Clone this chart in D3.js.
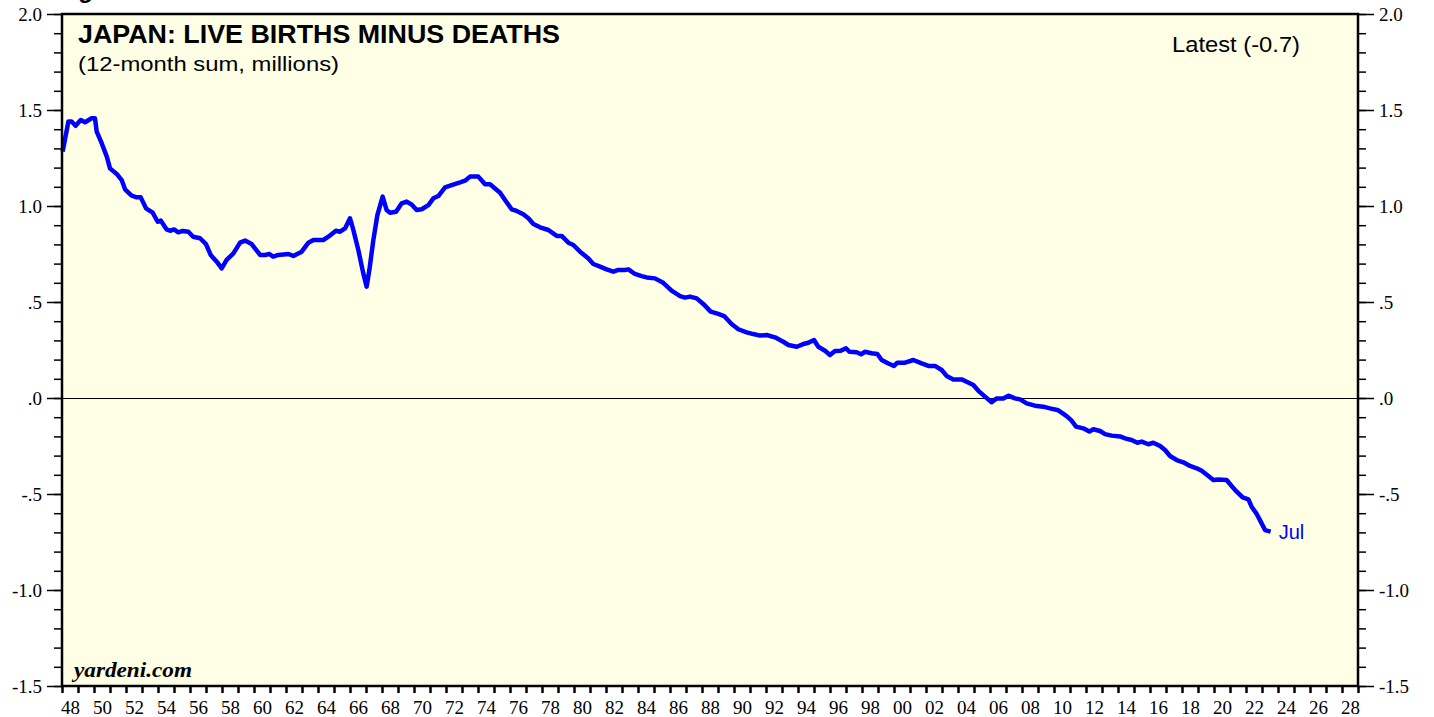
<!DOCTYPE html>
<html>
<head>
<meta charset="utf-8">
<script src="https://cdn.jsdelivr.net/npm/d3@7"></script>
<style>
  body { margin: 0; background: #fff; }
  svg { display: block; }
</style>
</head>
<body>
<script>
// 12-month sum of live births minus deaths, millions
const dates = [
  1948.04, 1948.4, 1948.6, 1948.85, 1949.17, 1949.44, 1949.85, 1950.06, 1950.17, 1950.48,
  1950.8, 1951.0, 1951.42, 1951.73, 1951.94, 1952.35, 1952.67, 1952.92, 1953.25, 1953.67,
  1953.98, 1954.17, 1954.54, 1954.75, 1955.0, 1955.27, 1955.54, 1955.9, 1956.2, 1956.63,
  1957.0, 1957.29, 1957.67, 1957.98, 1958.29, 1958.71, 1959.13, 1959.44, 1959.85, 1960.38,
  1960.69, 1960.96, 1961.2, 1961.52, 1962.15, 1962.46, 1962.98, 1963.4, 1963.71, 1964.33,
  1964.65, 1965.12, 1965.38, 1965.69, 1966.0, 1966.21, 1966.52, 1966.83, 1967.04, 1967.21,
  1967.46, 1967.71, 1968.04, 1968.29, 1968.5, 1968.88, 1969.23, 1969.54, 1969.85, 1970.17,
  1970.48, 1970.9, 1971.21, 1971.52, 1971.94, 1972.35, 1972.88, 1973.19, 1973.5, 1974.02,
  1974.44, 1974.75, 1975.38, 1975.69, 1976.1, 1976.42, 1976.83, 1977.15, 1977.46, 1977.88,
  1978.4, 1978.92, 1979.23, 1979.65, 1979.96, 1980.38, 1980.9, 1981.21, 1981.63, 1982.04,
  1982.46, 1982.77, 1983.19, 1983.4, 1983.81, 1984.23, 1984.54, 1985.06, 1985.58, 1986.1,
  1986.63, 1986.94, 1987.25, 1987.67, 1988.08, 1988.54, 1989.02, 1989.38, 1989.85, 1990.27,
  1990.79, 1991.21, 1991.63, 1992.04, 1992.56, 1993.08, 1993.4, 1993.92, 1994.33, 1994.65,
  1995.0, 1995.27, 1995.69, 1996.0, 1996.31, 1996.67, 1997.0, 1997.21, 1997.67, 1997.94,
  1998.19, 1998.6, 1998.96, 1999.23, 1999.65, 2000.0, 2000.21, 2000.69, 2001.21, 2001.73,
  2002.15, 2002.56, 2002.98, 2003.29, 2003.71, 2004.23, 2004.54, 2004.96, 2005.33, 2005.69,
  2006.1, 2006.42, 2006.83, 2007.15, 2007.56, 2007.88, 2008.29, 2008.81, 2009.33, 2009.75,
  2010.27, 2010.79, 2011.1, 2011.38, 2011.83, 2012.21, 2012.46, 2012.88, 2013.19, 2013.6,
  2014.13, 2014.44, 2014.85, 2015.21, 2015.48, 2015.9, 2016.21, 2016.63, 2016.94, 2017.25,
  2017.67, 2018.08, 2018.5, 2018.92, 2019.23, 2019.65, 2019.96, 2020.27, 2020.79, 2021.1,
  2021.42, 2021.79, 2022.15, 2022.35, 2022.67, 2022.92, 2023.19, 2023.54
]
const birthsMinusDeaths = [
  1.283, 1.44, 1.44, 1.418, 1.448, 1.436, 1.457, 1.457, 1.387, 1.327,
  1.257, 1.196, 1.167, 1.135, 1.087, 1.054, 1.045, 1.045, 0.988, 0.965,
  0.918, 0.924, 0.878, 0.871, 0.878, 0.863, 0.870, 0.866, 0.840, 0.832,
  0.802, 0.745, 0.710, 0.675, 0.719, 0.753, 0.809, 0.820, 0.802, 0.745,
  0.745, 0.750, 0.736, 0.745, 0.750, 0.740, 0.762, 0.809, 0.823, 0.823,
  0.840, 0.871, 0.866, 0.883, 0.936, 0.875, 0.771, 0.649, 0.580, 0.667,
  0.823, 0.953, 1.049, 0.979, 0.965, 0.970, 1.014, 1.023, 1.008, 0.979,
  0.983, 1.005, 1.040, 1.052, 1.097, 1.109, 1.123, 1.132, 1.153, 1.153,
  1.113, 1.113, 1.069, 1.031, 0.983, 0.974, 0.957, 0.936, 0.906, 0.889,
  0.875, 0.844, 0.844, 0.809, 0.797, 0.762, 0.727, 0.698, 0.684, 0.670,
  0.658, 0.667, 0.667, 0.670, 0.646, 0.635, 0.628, 0.623, 0.600, 0.559,
  0.531, 0.523, 0.528, 0.519, 0.490, 0.450, 0.438, 0.427, 0.385, 0.358,
  0.342, 0.333, 0.325, 0.328, 0.316, 0.293, 0.276, 0.267, 0.281, 0.288,
  0.302, 0.267, 0.246, 0.224, 0.245, 0.246, 0.259, 0.241, 0.238, 0.228,
  0.241, 0.233, 0.229, 0.198, 0.180, 0.167, 0.184, 0.184, 0.198, 0.180,
  0.167, 0.167, 0.146, 0.115, 0.097, 0.097, 0.085, 0.068, 0.033, 0.007,
  -0.022, -0.002, -0.002, 0.012, -0.002, -0.007, -0.028, -0.040, -0.045, -0.054,
  -0.064, -0.094, -0.118, -0.149, -0.158, -0.175, -0.163, -0.172, -0.188, -0.196,
  -0.200, -0.210, -0.219, -0.233, -0.227, -0.241, -0.233, -0.250, -0.271, -0.302,
  -0.323, -0.335, -0.354, -0.366, -0.379, -0.406, -0.427, -0.424, -0.427, -0.458,
  -0.488, -0.518, -0.528, -0.566, -0.604, -0.644, -0.688, -0.696
]

const yearTicks = d3.range(1948, 2030)          // one tick per year
const yearLabels = d3.range(1948, 2029, 2)      // labelled every other year
const yMinorTicks = d3.range(-15, 21).map(d => d / 10)
const yMajorTicks = [-1.5, -1.0, -0.5, 0, 0.5, 1.0, 1.5, 2.0]

const W = 1434, H = 717
const margin = { top: 14, right: 76, bottom: 31, left: 62 }
const width = W - margin.left - margin.right
const height = H - margin.top - margin.bottom

const serif = "'Liberation Serif', 'Times New Roman', serif"
const sans = "'Liberation Sans', Arial, sans-serif"

const svg = d3.select("body").append("svg")
  .attr("width", W)
  .attr("height", H)

const g = svg.append("g").attr("transform", `translate(${margin.left},${margin.top})`)

const x = d3.scaleLinear().domain([1948, 2029]).range([0, width])
const y = d3.scaleLinear().domain([-1.5, 2.0]).range([height, 0])

// 0.5 -> ".5", -1.0 -> "-1.0", plain hyphen for minus
const fmtY = v => d3.format(".1f")(v).replace("\u2212", "-").replace(/^0\./, ".").replace(/^-0\./, "-.")

g.append("rect")
  .attr("width", width)
  .attr("height", height)
  .style("fill", "#ffffe6")

// cut off heading above the chart
svg.append("text")
  .attr("x", 57)
  .attr("y", -2)
  .style("font-family", sans)
  .style("font-weight", "bold")
  .style("font-size", "24px")
  .text("Figure")

// zero line
g.append("line")
  .attr("x1", 0).attr("x2", width)
  .attr("y1", Math.round(y(0)) + 0.5).attr("y2", Math.round(y(0)) + 0.5)
  .style("stroke", "black")
  .style("stroke-width", 1)
  .style("shape-rendering", "crispEdges")

const points = dates.map((d, i) => [d, birthsMinusDeaths[i]])

const line = d3.line()
  .x(d => x(d[0]))
  .y(d => y(d[1]))

g.append("path")
  .datum(points)
  .attr("d", line)
  .style("fill", "none")
  .style("stroke", "#0000ff")
  .style("stroke-width", 4.5)
  .style("stroke-linejoin", "round")

const styleAxis = (sel) => {
  sel.select(".domain").remove()
  sel.selectAll("line").style("stroke", "black").style("stroke-width", 1.5)
  sel.selectAll("text")
    .style("font-family", serif)
    .style("font-size", "19px")
    .style("fill", "black")
}

// y axes: minor then major ticks, both sides
g.append("g")
  .call(d3.axisLeft(y).tickValues(yMinorTicks).tickSize(8).tickFormat(""))
  .call(styleAxis)
g.append("g")
  .call(d3.axisLeft(y).tickValues(yMajorTicks).tickSize(15).tickPadding(5).tickFormat(fmtY))
  .call(styleAxis)
g.append("g")
  .attr("transform", `translate(${width},0)`)
  .call(d3.axisRight(y).tickValues(yMinorTicks).tickSize(8).tickFormat(""))
  .call(styleAxis)
g.append("g")
  .attr("transform", `translate(${width},0)`)
  .call(d3.axisRight(y).tickValues(yMajorTicks).tickSize(16).tickPadding(5).tickFormat(fmtY))
  .call(styleAxis)

// x axis: yearly ticks, labels centred in the year
g.append("g")
  .attr("transform", `translate(0,${height})`)
  .call(d3.axisBottom(x).tickValues(yearTicks).tickSize(7).tickFormat(""))
  .call(styleAxis)
  .selectAll("line").style("stroke-width", 2.5)
g.append("g")
  .attr("transform", `translate(0,${height})`)
  .call(d3.axisBottom(x).tickValues(yearLabels.map(d => d + 0.5)).tickSize(0).tickPadding(15)
    .tickFormat(d => String(Math.floor(d) % 100).padStart(2, "0")))
  .call(styleAxis)

// frame
g.append("rect")
  .attr("width", width)
  .attr("height", height)
  .style("fill", "none")
  .style("stroke", "black")
  .style("stroke-width", 2.5)

g.append("text")
  .attr("x", 16)
  .attr("y", 29)
  .style("font-family", sans)
  .style("font-weight", "bold")
  .style("font-size", "25px")
  .attr("textLength", 482)
  .attr("lengthAdjust", "spacingAndGlyphs")
  .text("JAPAN: LIVE BIRTHS MINUS DEATHS")

g.append("text")
  .attr("x", 16)
  .attr("y", 57)
  .style("font-family", sans)
  .style("font-size", "20.5px")
  .attr("textLength", 261)
  .attr("lengthAdjust", "spacingAndGlyphs")
  .text("(12-month sum, millions)")

g.append("text")
  .attr("x", 1110)
  .attr("y", 38)
  .style("font-family", sans)
  .style("font-size", "21.5px")
  .attr("textLength", 128)
  .attr("lengthAdjust", "spacingAndGlyphs")
  .text("Latest (-0.7)")

g.append("text")
  .attr("x", 12)
  .attr("y", 663)
  .style("font-family", serif)
  .style("font-weight", "bold")
  .style("font-style", "italic")
  .style("font-size", "20px")
  .attr("textLength", 118)
  .attr("lengthAdjust", "spacingAndGlyphs")
  .text("yardeni.com")

const last = points[points.length - 1]
g.append("text")
  .attr("x", x(last[0]) + 8)
  .attr("y", y(last[1]) + 7)
  .style("font-family", sans)
  .style("font-size", "20px")
  .style("fill", "#0000ff")
  .text("Jul")
</script>
</body>
</html>
